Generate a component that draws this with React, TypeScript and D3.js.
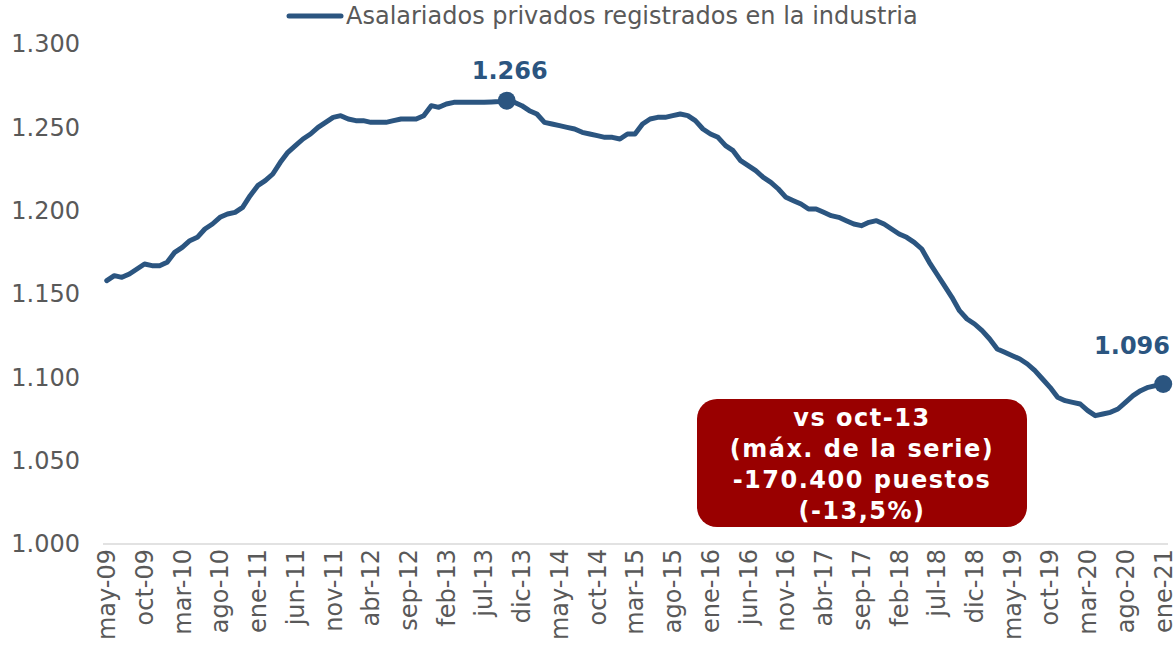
import React from "react";
import * as d3 from "d3";

// Asalariados privados registrados en la industria (miles), may-09 a ene-21
const values = [
  1.158, 1.161, 1.16, 1.162, 1.165, 1.168, 1.167, 1.167, 1.169, 1.175,
  1.178, 1.182, 1.184, 1.189, 1.192, 1.196, 1.198, 1.199, 1.202, 1.209,
  1.215, 1.218, 1.222, 1.229, 1.235, 1.239, 1.243, 1.246, 1.25, 1.253,
  1.256, 1.257, 1.255, 1.254, 1.254, 1.253, 1.253, 1.253, 1.254, 1.255,
  1.255, 1.255, 1.257, 1.263, 1.262, 1.264, 1.265, 1.265, 1.265, 1.265,
  1.265, 1.2652, 1.2655, 1.266, 1.265, 1.263, 1.26, 1.258, 1.253, 1.252,
  1.251, 1.25, 1.249, 1.247, 1.246, 1.245, 1.244, 1.244, 1.243, 1.246,
  1.246, 1.252, 1.255, 1.256, 1.256, 1.257, 1.258, 1.257, 1.254, 1.249,
  1.246, 1.244, 1.239, 1.236, 1.23, 1.227, 1.224, 1.22, 1.217, 1.213,
  1.208, 1.206, 1.204, 1.201, 1.201, 1.199, 1.197, 1.196, 1.194, 1.192,
  1.191, 1.193, 1.194, 1.192, 1.189, 1.186, 1.184, 1.181, 1.177, 1.169,
  1.162, 1.155, 1.148, 1.14, 1.135, 1.132, 1.128, 1.123, 1.117, 1.115,
  1.113, 1.111, 1.108, 1.104, 1.099, 1.094, 1.088, 1.086, 1.085, 1.084,
  1.08, 1.077, 1.078, 1.079, 1.081, 1.085, 1.089, 1.092, 1.094, 1.095,
  1.096,
];

const monthNames = ["ene", "feb", "mar", "abr", "may", "jun", "jul", "ago", "sep", "oct", "nov", "dic"];
const startMonth = 4; // may
const startYear = 2009;

const yTicks = [1.0, 1.05, 1.1, 1.15, 1.2, 1.25, 1.3];

const legendLabel = "Asalariados privados registrados en la industria";
const boxLines = ["vs oct-13", "(máx. de la serie)", "-170.400 puestos", "(-13,5%)"];

const categories = values.map((_, i) => {
  const m = startMonth + i;
  const yy = (startYear + Math.floor(m / 12)) % 100;
  return `${monthNames[m % 12]}-${String(yy).padStart(2, "0")}`;
});

const width = 1175;
const height = 652;
const blue = "#2b5580";
const grey = "#595959";
const font = "'DejaVu Sans', Verdana, sans-serif";

const App = () => {
  const x = d3.scalePoint<string>().domain(categories).range([103, 1167]).padding(0.5);
  const y = d3.scaleLinear().domain([1.0, 1.3]).range([544, 44]);

  const line = d3
    .line<number>()
    .x((_, i) => x(categories[i]) as number)
    .y((d) => y(d));

  const maxIdx = d3.maxIndex(values);
  const lastIdx = values.length - 1;
  const fmt = (v: number) => v.toFixed(3);

  return (
    <svg
      width={width}
      height={height}
      style={{ position: "absolute", left: 0, top: 0, background: "#fff" }}
      fontFamily={font}
    >
      {/* legend */}
      <line x1={289} x2={341} y1={16} y2={16} stroke={blue} strokeWidth={5} strokeLinecap="round" />
      <text x={346} y={24} fontSize={24} fill={grey}>
        {legendLabel}
      </text>

      {/* y axis labels */}
      {yTicks.map((t) => (
        <text key={t} x={80} y={y(t)} dy="0.35em" textAnchor="end" fontSize={24} fill={grey}>
          {fmt(t)}
        </text>
      ))}

      {/* x axis */}
      <line x1={103} x2={1168} y1={y(1.0)} y2={y(1.0)} stroke="#d9d9d9" strokeWidth={1.5} />
      {categories.map((c, i) =>
        i % 5 === 0 ? (
          <text
            key={c}
            transform={`translate(${x(c)},${y(1.0) + 5}) rotate(-90)`}
            dy="0.35em"
            textAnchor="end"
            fontSize={24}
            fill={grey}
          >
            {c}
          </text>
        ) : null
      )}

      {/* series */}
      <path d={line(values) ?? ""} fill="none" stroke={blue} strokeWidth={5} strokeLinejoin="round" strokeLinecap="round" />
      {[maxIdx, lastIdx].map((i) => (
        <circle key={i} cx={x(categories[i])} cy={y(values[i])} r={9} fill={blue} />
      ))}
      <text x={(x(categories[maxIdx]) as number) + 3} y={y(values[maxIdx]) - 22} textAnchor="middle" fontSize={24} fontWeight="bold" fill={blue}>
        {fmt(values[maxIdx])}
      </text>
      <text x={1170} y={y(values[lastIdx]) - 30} textAnchor="end" fontSize={24} fontWeight="bold" fill={blue}>
        {fmt(values[lastIdx])}
      </text>

      {/* annotation box */}
      <rect x={697} y={399} width={330} height={128} rx={20} fill="#990000" />
      {boxLines.map((t, i) => (
        <text
          key={t}
          x={862}
          y={426 + i * 31}
          textAnchor="middle"
          fontSize={24}
          fontWeight="bold"
          letterSpacing={1.5}
          fill="#fff"
        >
          {t}
        </text>
      ))}
    </svg>
  );
};

export default App;
